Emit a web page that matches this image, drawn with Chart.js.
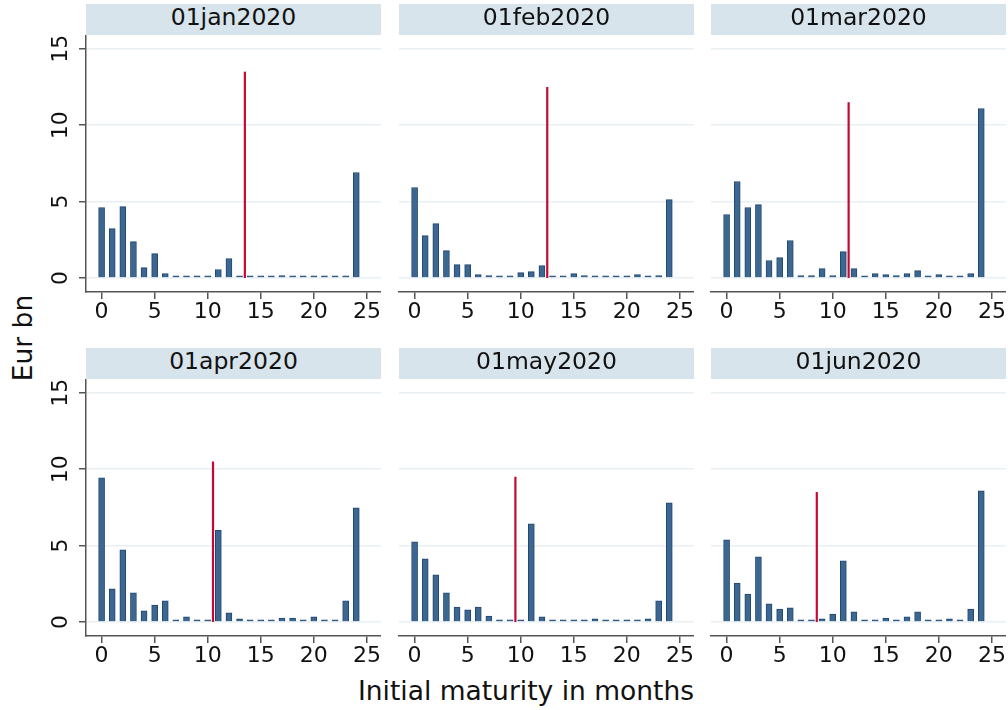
<!DOCTYPE html>
<html>
<head>
<meta charset="utf-8">
<script src="https://cdn.jsdelivr.net/npm/chart.js@4/dist/chart.umd.min.js"></script>
<style>
  body { margin: 0; overflow: hidden; background: #fff; font-family: "DejaVu Sans", sans-serif; }
  #wrap { position: relative; width: 1008px; height: 710px; }
  .strip { position: absolute; height: 31px; background: #d8e4eb; }
  .strip span { position: absolute; left: 0; right: 0; top: -0.5px; text-align: center; font-size: 23.5px; line-height: 27px; color: #111; }
  canvas { position: absolute; }
  .xtitle { position: absolute; left: 0; width: 1052px; top: 674.7px; text-align: center; font-size: 26.5px; line-height: normal; color: #111; }
  .ytitle { position: absolute; left: 21.8px; top: 338px; font-size: 26.5px; line-height: normal; color: #111;
            transform: translate(-50%, -50%) rotate(-90deg); white-space: nowrap; }
</style>
</head>
<body>
<div id="wrap">
  <div class="ytitle">Eur bn</div>
  <div class="xtitle">Initial maturity in months</div>
</div>
<script>
// initial maturity buckets (months)
let months = [0,1,2,3,4,5,6,7,8,9,10,11,12,13,14,15,16,17,18,19,20,21,22,23,24]

let dates = ["01jan2020", "01feb2020", "01mar2020", "01apr2020", "01may2020", "01jun2020"]

// Eur bn per maturity bucket
let jan2020 = [4.61, 3.23, 4.67, 2.38, 0.68, 1.59, 0.28, 0.09, 0.09, 0.09, 0.09, 0.55, 1.27, 0.09, 0.09, 0.04, 0.09, 0.15, 0.09, 0.04, 0.04, 0.04, 0.08, 0.08, 6.90]
let feb2020 = [5.92, 2.77, 3.56, 1.79, 0.87, 0.87, 0.22, 0.15, 0.09, 0.09, 0.35, 0.41, 0.81, 0.03, 0.03, 0.28, 0.15, 0.09, 0.04, 0.04, 0.04, 0.22, 0.09, 0.15, 5.13]
let mar2020 = [4.15, 6.31, 4.61, 4.80, 1.14, 1.33, 2.45, 0.15, 0.15, 0.61, 0.15, 1.72, 0.61, 0.09, 0.28, 0.22, 0.15, 0.28, 0.48, 0.03, 0.22, 0.04, 0.04, 0.28, 11.09]
let apr2020 = [9.43, 2.16, 4.72, 1.90, 0.72, 1.11, 1.38, 0.09, 0.33, 0.09, 0.13, 6.00, 0.59, 0.20, 0.09, 0.13, 0.04, 0.26, 0.26, 0.04, 0.33, 0.04, 0.04, 1.38, 7.47]
let may2020 = [5.24, 4.13, 3.08, 1.90, 0.98, 0.79, 0.98, 0.39, 0.09, 0.04, 0.09, 6.42, 0.33, 0.09, 0.04, 0.04, 0.09, 0.20, 0.09, 0.04, 0.04, 0.04, 0.20, 1.38, 7.79]
let jun2020 = [5.37, 2.55, 1.83, 4.26, 1.18, 0.85, 0.92, 0.09, 0.09, 0.20, 0.52, 4.00, 0.66, 0.13, 0.04, 0.26, 0.09, 0.33, 0.66, 0.04, 0.09, 0.20, 0.04, 0.85, 8.58]

// red marker: position and height of the vertical line in each panel
let redLine = [13.5, 12.5, 11.5, 10.5, 9.5, 8.5]

let yTicks = [0, 5, 10, 15]

let series = [jan2020, feb2020, mar2020, apr2020, may2020, jun2020]

Chart.defaults.font.family = '"DejaVu Sans", sans-serif'

// Stata style rotated y tick labels, only on the left column
const yLabels = {
  id: 'yLabels',
  afterDraw(chart) {
    const ctx = chart.ctx
    const ys = chart.scales.y
    ctx.save()
    ctx.font = '22px "DejaVu Sans"'
    ctx.fillStyle = '#111'
    ctx.textAlign = 'center'
    ctx.textBaseline = 'alphabetic'
    yTicks.forEach(v => {
      ctx.save()
      ctx.translate(ys.right - 19, ys.getPixelForValue(v))
      ctx.rotate(-Math.PI / 2)
      ctx.fillText(String(v), 0, 0)
      ctx.restore()
    })
    ctx.restore()
  }
}

let wrap = document.getElementById('wrap')
let colLeft = [86, 399, 711]
let rowTop = [4, 348]

for (let i = 0; i < 6; i++) {
  let col = i % 3, row = Math.floor(i / 3)
  let left = colLeft[col], top = rowTop[row]

  let strip = document.createElement('div')
  strip.className = 'strip'
  strip.style.left = left + 'px'
  strip.style.top = top + 'px'
  strip.style.width = '295px'
  strip.innerHTML = '<span>' + dates[i] + '</span>'
  wrap.appendChild(strip)

  let cv = document.createElement('canvas')
  cv.width = 341
  cv.height = 302
  cv.style.left = (left - 46) + 'px'
  cv.style.top = (top + 31) + 'px'
  wrap.appendChild(cv)

  let firstCol = col === 0
  let vals = series[i]

  new Chart(cv, {
    type: 'bar',
    data: {
      datasets: [{
        type: 'line',
        data: [{x: redLine[i], y: 0}, {x: redLine[i], y: redLine[i]}],
        borderColor: '#c40a33',
        borderWidth: 2.2,
        pointRadius: 0
      }, {
        data: months.map((m, k) => ({x: m, y: vals[k]})),
        backgroundColor: '#3d6690',
        borderColor: '#1f4970',
        borderWidth: 1,
        barThickness: 6,
        minBarLength: 2
      }]
    },
    options: {
      responsive: false,
      animation: false,
      layout: {padding: 0},
      plugins: {legend: {display: false}, tooltip: {enabled: false}},
      scales: {
        x: {
          type: 'linear',
          offset: false,
          min: -1.47,
          max: 26.33,
          afterFit: s => { s.height = 45 },
          grid: {offset: false, drawOnChartArea: false, tickLength: 7, tickColor: '#555', lineWidth: 1.5},
          border: {display: true, color: '#555', width: 1.5},
          ticks: {stepSize: 5, includeBounds: false, autoSkip: false, maxRotation: 0,
                  padding: 0, color: '#111', font: {size: 22}}
        },
        y: {
          min: -0.92,
          max: 15.9,
          afterFit: s => { s.width = 46 },
          grid: {color: '#e9f0f3', lineWidth: 1.5, drawTicks: firstCol, tickLength: 7, tickColor: '#555'},
          border: {display: firstCol, color: '#555', width: 1.5},
          ticks: {stepSize: 5, includeBounds: false, display: false}
        }
      }
    },
    plugins: firstCol ? [yLabels] : []
  })
}
</script>
</body>
</html>
